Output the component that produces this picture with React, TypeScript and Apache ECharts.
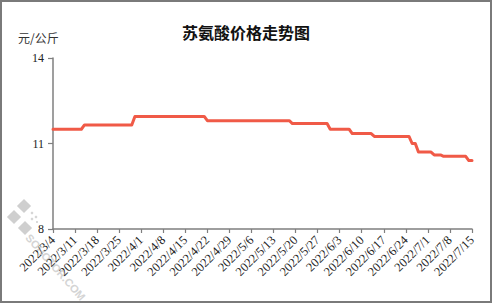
import React, { useEffect, useRef } from "react";
import * as echarts from "echarts";

// Daily category range and weekly tick labels
const startDate = "2022/3/4";
const endDate = "2022/7/15";
const yTicks = [8, 11, 14];

// Price change points (date, 元/公斤)
const pointDates = [
  "2022/3/4", "2022/3/13", "2022/3/14", "2022/3/29", "2022/3/30",
  "2022/4/21", "2022/4/22", "2022/5/18", "2022/5/19", "2022/5/30",
  "2022/5/31", "2022/6/6", "2022/6/7", "2022/6/13", "2022/6/14",
  "2022/6/25", "2022/6/26", "2022/6/27", "2022/6/28", "2022/7/2",
  "2022/7/3", "2022/7/5", "2022/7/6", "2022/7/13", "2022/7/14",
  "2022/7/15",
];
const pointValues = [
  11.5, 11.5, 11.65, 11.65, 11.95,
  11.95, 11.8, 11.8, 11.7, 11.7,
  11.5, 11.5, 11.35, 11.35, 11.25,
  11.25, 11.0, 11.0, 10.7, 10.7,
  10.6, 10.6, 10.55, 10.55, 10.4,
  10.4,
];

function fmt(d: Date) {
  return `${d.getFullYear()}/${d.getMonth() + 1}/${d.getDate()}`;
}
function buildDays(a: string, b: string) {
  const out: string[] = [];
  const [y1, m1, d1] = a.split("/").map(Number);
  const [y2, m2, d2] = b.split("/").map(Number);
  const cur = new Date(y1, m1 - 1, d1, 12);
  const end = new Date(y2, m2 - 1, d2, 12);
  while (cur <= end) {
    out.push(fmt(cur));
    cur.setDate(cur.getDate() + 1);
  }
  return out;
}
const categories = buildDays(startDate, endDate);

export default function App() {
  const ref = useRef<HTMLDivElement>(null);
  useEffect(() => {
    if (!ref.current) return;
    const chart = echarts.init(ref.current, undefined, { renderer: "svg" });
    const serif = "'Liberation Serif', 'Times New Roman', serif";
    chart.setOption({
      animation: false,
      backgroundColor: "#ffffff",
      title: {
        text: "苏氨酸价格走势图",
        left: "center",
        top: 19,
        textStyle: {
          fontFamily: "'Noto Sans CJK SC', sans-serif",
          fontSize: 16,
          fontWeight: "bold",
          color: "#111",
        },
      },
      grid: { left: 53, right: 20, top: 58, bottom: 74, containLabel: false },
      xAxis: {
        type: "category",
        data: categories,
        boundaryGap: false,
        axisLine: { show: true, lineStyle: { color: "#7f7f7f", width: 1.5 } },
        axisTick: { show: true, interval: 6, length: 4, lineStyle: { color: "#7f7f7f", width: 1.2 } },
        axisLabel: {
          interval: 6,
          rotate: 45,
          margin: 9,
          fontFamily: serif,
          fontSize: 12.5,
          color: "#222",
        },
        splitLine: { show: false },
      },
      yAxis: {
        type: "value",
        min: yTicks[0],
        max: yTicks[yTicks.length - 1],
        interval: 3,
        axisLine: { show: true, lineStyle: { color: "#7f7f7f", width: 1.5 } },
        axisTick: { show: true, length: 5, lineStyle: { color: "#7f7f7f", width: 1.2 } },
        axisLabel: {
          margin: 9,
          fontFamily: serif,
          fontSize: 12,
          color: "#222",
        },
        splitLine: { show: false },
      },
      graphic: [
        {
          type: "rect",
          shape: { x: 1, y: 1, width: 490, height: 301 },
          style: { fill: "none", stroke: "#7a7a7a", lineWidth: 2 },
          z: 100,
          silent: true,
        },
        {
          type: "text",
          x: 18,
          y: 37,
          style: {
            text: "元/公斤",
            fontFamily: "'Noto Sans CJK SC', sans-serif",
            fontSize: 12,
            fill: "#333",
            verticalAlign: "middle",
          },
        },
        {
          type: "group",
          z: -10,
          silent: true,
          children: [
            { type: "rect", x: 24, y: 206, rotation: Math.PI / 4, shape: { x: -5, y: -5, width: 10, height: 10 }, style: { fill: "#cfcfcf" } },
            { type: "rect", x: 14, y: 217, rotation: Math.PI / 4, shape: { x: -5, y: -5, width: 10, height: 10 }, style: { fill: "#cfcfcf" } },
            { type: "rect", x: 25, y: 228, rotation: Math.PI / 4, shape: { x: -5, y: -5, width: 10, height: 10 }, style: { fill: "#cfcfcf" } },
            { type: "circle", shape: { cx: 32, cy: 213, r: 1.3 }, style: { fill: "#d6d6d6" } },
            { type: "circle", shape: { cx: 36, cy: 217, r: 1.3 }, style: { fill: "#d6d6d6" } },
            { type: "circle", shape: { cx: 32, cy: 219, r: 1.3 }, style: { fill: "#d6d6d6" } },
            { type: "circle", shape: { cx: 37, cy: 222, r: 1.1 }, style: { fill: "#d6d6d6" } },
            {
              type: "text",
              x: 32,
              y: 232,
              rotation: -Math.PI * 0.27,
              style: {
                text: "SOHOTOR.COM",
                fontFamily: "'Liberation Sans', sans-serif",
                fontSize: 11,
                fontWeight: "bold",
                fill: "#d4d4d4",
              },
            },
          ],
        },
      ],
      series: [
        {
          type: "line",
          data: pointDates.map((d, i) => [d, pointValues[i]]),
          showSymbol: false,
          symbol: "none",
          lineStyle: { color: "#F05A47", width: 3, cap: "round", join: "round" },
          itemStyle: { color: "#F05A47" },
        },
      ],
    });
    return () => chart.dispose();
  }, []);
  return (
    <div
      ref={ref}
      style={{ position: "fixed", left: 0, top: 0, width: 492, height: 303, background: "#fff" }}
    />
  );
}
